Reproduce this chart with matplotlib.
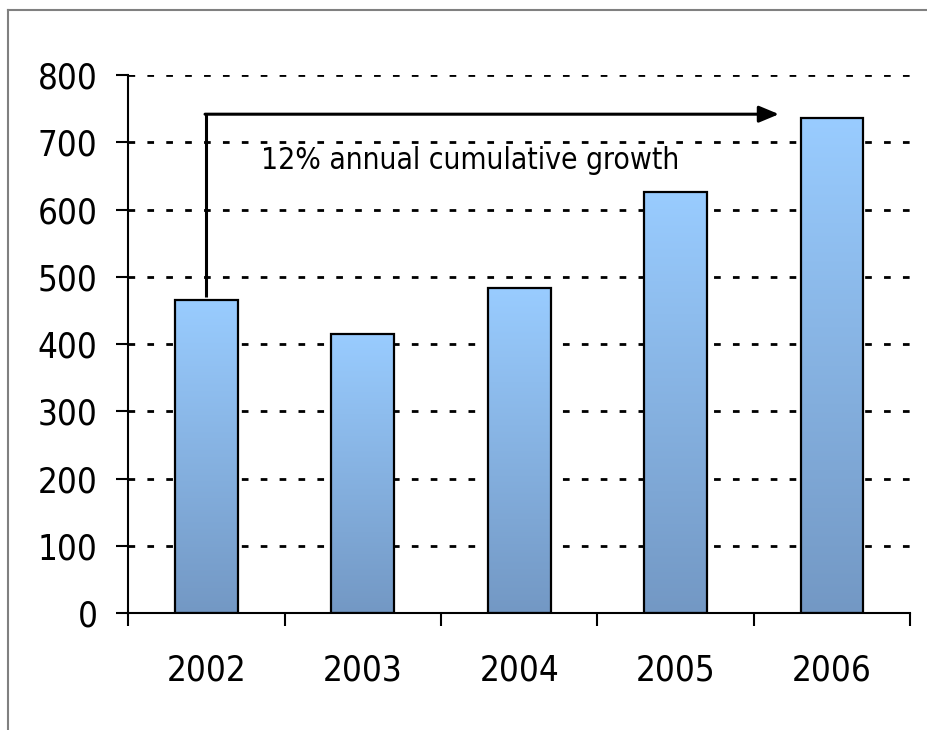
import numpy as np
import matplotlib.pyplot as plt
from matplotlib.colors import LinearSegmentedColormap
from matplotlib.lines import Line2D

years = ['2002', '2003', '2004', '2005', '2006']
values = [465, 415, 483, 626, 736]
note = '12% annual cumulative growth'

plt.rcParams['font.family'] = ['DejaVu Sans']
plt.rcParams['font.stretch'] = 'condensed'

fig = plt.figure(figsize=(9.28, 7.3), dpi=100)
ax = fig.add_axes([0.138, 0.160, 0.843, 0.737])

x = np.arange(len(years))
width = 0.4
cmap = LinearSegmentedColormap.from_list('barfade', ['#7398c4', '#99ccff'])
grad = np.linspace(0, 1, 256).reshape(-1, 1)

for xi, v in zip(x, values):
    ax.imshow(grad, cmap=cmap, origin='lower', aspect='auto',
              extent=[xi - width / 2, xi + width / 2, 0, v], zorder=2)
ax.bar(x, values, width=width, fill=False, edgecolor='black', linewidth=1.6, zorder=3)

# dotted grid
for g in range(100, 900, 100):
    ax.axhline(g, color='black', linewidth=2.0, dashes=(2.4, 4.4), zorder=1)

ax.set_xlim(-0.5, 4.5)
ax.set_ylim(0, 800)
ax.set_yticks(range(0, 900, 100))
ax.set_xticks(np.arange(-0.5, 5, 1))
ax.set_xticklabels([])
ax.set_xticks(x, minor=True)
ax.set_xticklabels(years, minor=True)
ax.tick_params(axis='x', which='major', direction='out', length=9, width=1.5)
ax.tick_params(axis='x', which='minor', length=0, pad=29, labelsize=25)
ax.tick_params(axis='y', direction='out', length=9, width=1.5, labelsize=25, pad=13)

for s in ['top', 'right']:
    ax.spines[s].set_visible(False)
for s in ['left', 'bottom']:
    ax.spines[s].set_linewidth(1.5)

# growth arrow
ax.plot([0, 0], [470, 742], color='black', linewidth=2.2, zorder=4, solid_capstyle='butt')
ax.annotate('', xy=(3.66, 742), xytext=(-0.008, 742),
            arrowprops=dict(arrowstyle='-|>,head_length=1.2,head_width=0.5',
                            color='black', linewidth=2.2, shrinkA=0, shrinkB=0),
            zorder=4)
ax.text(1.685, 673, note, ha='center', va='center', fontsize=21.5, zorder=4)

# outer frame
fig.add_artist(Line2D([0.0086, 1.0], [0.986, 0.986], color='#808080', linewidth=1.5))
fig.add_artist(Line2D([0.0086, 0.0086], [0.0, 0.986], color='#808080', linewidth=1.5))

fig.savefig('out.png', dpi=100)
